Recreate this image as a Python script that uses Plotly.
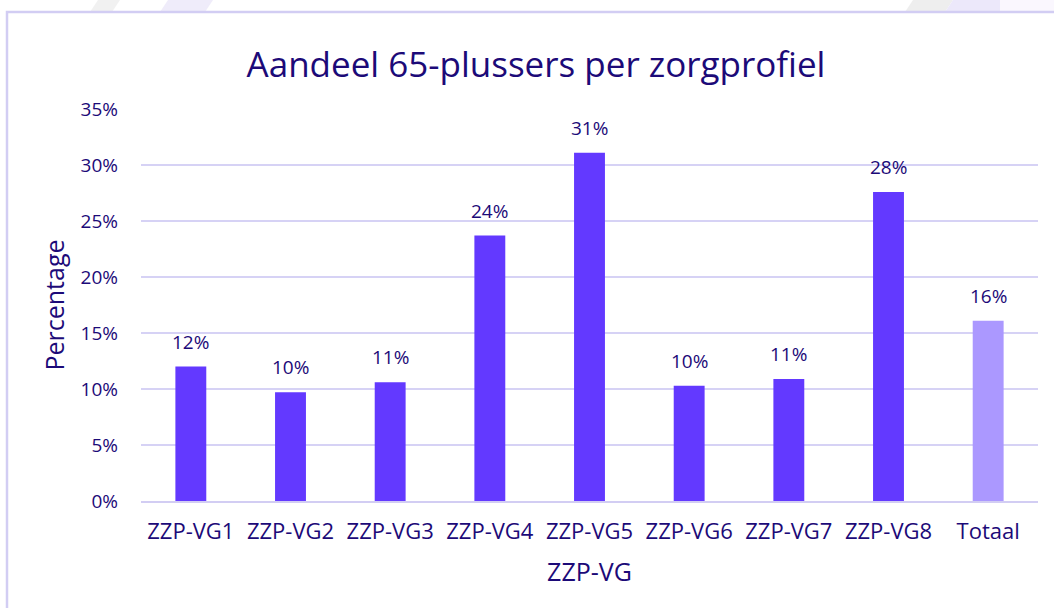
import plotly.graph_objects as go

categories = ["ZZP-VG1", "ZZP-VG2", "ZZP-VG3", "ZZP-VG4", "ZZP-VG5",
              "ZZP-VG6", "ZZP-VG7", "ZZP-VG8", "Totaal"]
values = [12.0, 9.7, 10.6, 23.7, 31.1, 10.3, 10.9, 27.6, 16.1]
tick_vals = [0, 5, 10, 15, 20, 25, 30, 35]
tick_text = ["0%", "5%", "10%", "15%", "20%", "25%", "30%", "35%"]

W, H = 1054, 608
L, R, T, B = 141, 16, 109, 107
PW, PH = W - L - R, H - T - B

def px(x):
    return (x - L) / PW

def py(y):
    return (H - B - y) / PH

FONT = "Open Sans"
TXT = "#1c0a78"
bar_colors = ["#6339ff"] * 8 + ["#ab98ff"]

fig = go.Figure(go.Bar(
    x=categories, y=values,
    marker=dict(color=bar_colors, line=dict(width=0)),
    width=0.31,
    hoverinfo="x+y",
))

annotations = [
    dict(x=c, y=v, xref="x", yref="y", text=f"{v:.0f}%", showarrow=False,
         yanchor="middle", yshift=25,
         font=dict(family=FONT, size=19, color=TXT))
    for c, v in zip(categories, values)
]

shapes = []
for x0, x1, col in [(90, 112, "#f1f1f1"), (160, 205, "#efecfa"),
                    (905, 945, "#eeeeee"), (945, 1000, "#ece8fa")]:
    shapes.append(dict(type="path", xref="paper", yref="paper",
                       path=f"M {px(x0+8)} {py(0)} L {px(x1+8)} {py(0)} L {px(x1)} {py(12)} L {px(x0)} {py(12)} Z",
                       fillcolor=col, line=dict(width=0), layer="below"))
shapes.append(dict(type="rect", xref="paper", yref="paper",
                   x0=px(1000), x1=px(1054), y0=py(12), y1=py(0),
                   fillcolor="#faf7fe", line=dict(width=0), layer="below"))
shapes.append(dict(type="path", xref="paper", yref="paper",
                   path=f"M {px(7)} {py(610)} L {px(7)} {py(12)} L {px(1056)} {py(12)}",
                   line=dict(color="#d2cdf3", width=2.5), layer="below"))

fig.update_layout(
    width=W, height=H,
    margin=dict(l=L, r=R, t=T, b=B),
    paper_bgcolor="white", plot_bgcolor="white",
    shapes=shapes,
    annotations=annotations,
    showlegend=False,
    bargap=0.69,
    title=dict(text="Aandeel 65-plussers per zorgprofiel",
               font=dict(family=FONT, size=35, color=TXT),
               x=536 / W, xanchor="center", y=1 - 65 / H, yanchor="middle"),
    xaxis=dict(
        title=dict(text="ZZP-VG", font=dict(family=FONT, size=25, color=TXT), standoff=19),
        tickfont=dict(family=FONT, size=22, color=TXT),
        showgrid=False, showline=True, linecolor="#d2cdf3", linewidth=2,
        ticks="", ticklabelstandoff=10,
    ),
    yaxis=dict(
        title=dict(text="Percentage", font=dict(family=FONT, size=25, color=TXT), standoff=8),
        tickfont=dict(family=FONT, size=19, color=TXT),
        range=[0, 35], tickvals=tick_vals, ticktext=tick_text,
        showgrid=True, gridcolor="#d6d2f5", gridwidth=2,
        zeroline=False, showline=False, ticks="", ticklabelstandoff=22,
    ),
)

fig.write_html("out.html", config={"displayModeBar": False},
               post_script="document.body.style.margin='0';")
